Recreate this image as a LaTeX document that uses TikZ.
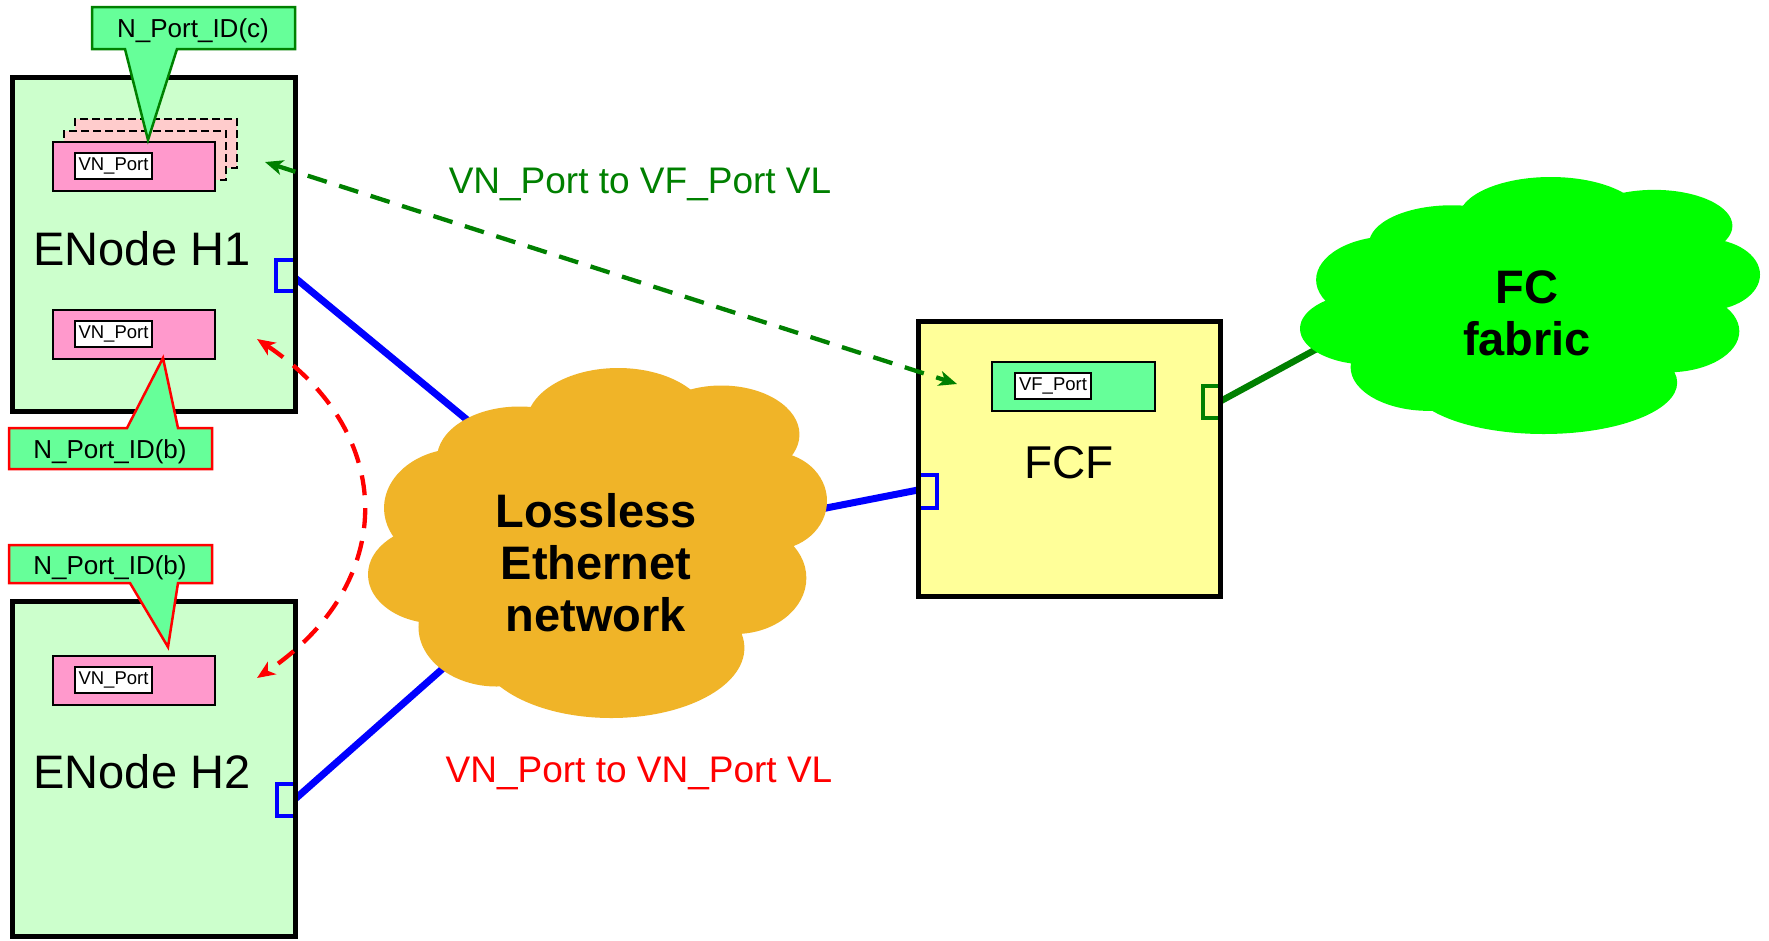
\documentclass[tikz,border=0pt]{standalone}
\usepackage{fontspec}
\setmainfont{Liberation Sans}
\usetikzlibrary{arrows.meta}
\definecolor{hostgreen}{HTML}{CCFFCC}
\definecolor{portpink}{HTML}{FF99CC}
\definecolor{ghostpink}{HTML}{FFCCCC}
\definecolor{calloutfill}{HTML}{66FF99}
\definecolor{fcfyellow}{HTML}{FFFF99}
\definecolor{lossorange}{HTML}{F0B428}
\definecolor{fcgreen}{HTML}{00FF00}
\definecolor{darkgreen}{HTML}{008000}
\definecolor{pureblue}{HTML}{0000FF}
\definecolor{purered}{HTML}{FF0000}
\newcommand\cloudlobes{%
\fill (0.545,0.16) ellipse [x radius=0.2, y radius=0.16];
\fill (0.77,0.19) ellipse [x radius=0.17, y radius=0.14];
\fill (0.88,0.38) ellipse [x radius=0.12, y radius=0.14];
\fill (0.80,0.60) ellipse [x radius=0.155, y radius=0.16];
\fill (0.53,0.80) ellipse [x radius=0.29, y radius=0.20];
\fill (0.28,0.74) ellipse [x radius=0.17, y radius=0.17];
\fill (0.15,0.59) ellipse [x radius=0.15, y radius=0.14];
\fill (0.20,0.40) ellipse [x radius=0.165, y radius=0.17];
\fill (0.33,0.26) ellipse [x radius=0.18, y radius=0.15];
\fill (0.52,0.48) ellipse [x radius=0.38, y radius=0.33];
}
\begin{document}
\begin{tikzpicture}[x=1pt,y=-1pt,
  hostbox/.style={draw=black,line width=5pt,fill=hostgreen,minimum width=283pt,inner sep=0pt},
  pinkbox/.style={draw=black,line width=2pt,fill=portpink,minimum width=162pt,minimum height=49pt,inner sep=0pt},
  ghostbox/.style={draw=black,line width=2pt,fill=ghostpink,dash pattern=on 8pt off 4pt,minimum width=162pt,minimum height=49pt,inner sep=0pt},
  portlabel/.style={draw=black,line width=1.5pt,fill=white,minimum width=77pt,minimum height=26pt,inner sep=0pt,font=\fontsize{18.5}{20}\selectfont},
  bigtxt/.style={anchor=base,inner sep=0pt,font=\fontsize{47}{52}\selectfont},
  vltxt/.style={anchor=base,inner sep=0pt,font=\fontsize{37}{42}\selectfont},
  calltxt/.style={anchor=base,inner sep=0pt,font=\fontsize{26}{30}\selectfont},
  cloudtxt/.style={inner sep=0pt,align=center,font=\bfseries\fontsize{47}{52}\selectfont},
  bracket/.style={line width=4pt,line cap=butt,line join=miter},
  link/.style={line width=7pt},
  vlarrow/.style={line width=4.3pt,dash pattern=on 20pt off 13pt,{Stealth[length=18pt,width=15pt,inset=5pt]}-{Stealth[length=18pt,width=15pt,inset=5pt]}},
  callout/.style={line width=2.5pt,fill=calloutfill,line join=miter}
]
\useasboundingbox[fill=white] (0,0) rectangle (1769,940);

% port coordinates and hidden ends of links
\coordinate (h1port) at (294,277);
\coordinate (h2port) at (294,800);
\coordinate (fcfport) at (918,490);
\coordinate (fcfout) at (1219,402);
\coordinate (lossin1) at (540,480);
\coordinate (lossin2) at (500,618);
\coordinate (lossin3) at (770,519);
\coordinate (fcin) at (1370,320);

% links (under the clouds)
\draw[link,pureblue] (h1port) -- (lossin1);
\draw[link,pureblue] (h2port) -- (lossin2);
\draw[link,pureblue] (fcfport) -- (lossin3);
\draw[link,darkgreen,line width=6.5pt] (fcfout) -- (fcin);

% clouds
\begin{scope}[shift={(368,368)},xscale=459,yscale=350,fill=lossorange]
\cloudlobes
\end{scope}
\begin{scope}[shift={(1300,177)},xscale=460,yscale=257,fill=fcgreen]
\cloudlobes
\end{scope}
\node[cloudtxt] (loss) at (596,563) {Lossless\\Ethernet\\network};
\node[cloudtxt] (fc) at (1527,313) {FC\\fabric};

% hosts
\node[hostbox,minimum height=334pt] (h1) at (153.5,244.5) {};
\node[hostbox,minimum height=334.5pt] (h2) at (153.5,768.75) {};
\node[bigtxt] (h1txt) at (142,265) {ENode H1};
\node[bigtxt] (h2txt) at (142,788) {ENode H2};

% H1 ports
\node[ghostbox] (g2) at (156,143.5) {};
\node[ghostbox] (g1) at (145,155) {};
\node[pinkbox] (vn1) at (134,166.5) {};
\node[portlabel] (vn1l) at (113.5,166) {VN\_Port};
\node[pinkbox] (vn2) at (134,334.5) {};
\node[portlabel] (vn2l) at (113.5,334) {VN\_Port};
% H2 port
\node[pinkbox] (vn3) at (134,680.5) {};
\node[portlabel] (vn3l) at (113.5,680) {VN\_Port};

% FCF
\node[draw=black,line width=5pt,fill=fcfyellow,minimum width=302.5pt,minimum height=275.5pt,inner sep=0pt] (fcf) at (1069.25,458.75) {};
\node[draw=black,line width=2pt,fill=calloutfill,minimum width=163pt,minimum height=49pt,inner sep=0pt] (vf) at (1073.5,386.5) {};
\node[portlabel,minimum width=76pt] (vfl) at (1053,386) {VF\_Port};
\node[anchor=base,inner sep=0pt,font=\fontsize{46}{50}\selectfont] (fcftxt) at (1069,478) {FCF};

% brackets
\draw[bracket,pureblue] (293,260) -- (276,260) -- (276,291) -- (293,291);
\draw[bracket,pureblue] (293,784) -- (277,784) -- (277,816) -- (293,816);
\draw[bracket,pureblue] (921,475) -- (937,475) -- (937,508) -- (921,508);
\draw[bracket,darkgreen] (1218,386) -- (1203,386) -- (1203,418) -- (1218,418);

% callouts
\draw[callout,draw=darkgreen] (92,7) -- (295,7) -- (295,49) -- (177,49) -- (148,140) -- (125,49) -- (92,49) -- cycle;
\node[calltxt] (cc) at (193,37) {N\_Port\_ID(c)};
\draw[callout,draw=purered] (9,428) -- (127,428) -- (163,358) -- (178,428) -- (212,428) -- (212,469) -- (9,469) -- cycle;
\node[calltxt] (cb1) at (110,458) {N\_Port\_ID(b)};
\draw[callout,draw=purered] (9,545) -- (212,545) -- (212,583) -- (178,583) -- (168,647) -- (130,583) -- (9,583) -- cycle;
\node[calltxt] (cb2) at (110,574) {N\_Port\_ID(b)};

% virtual links
\coordinate (vlh1) at (265,162);
\coordinate (vlfcf) at (957,384);
\draw[vlarrow,darkgreen] (vlh1) -- (vlfcf);
\coordinate (vlh1b) at (257,339);
\coordinate (vlh2) at (257,678);
\draw[vlarrow,purered] (vlh1b) .. controls (398,433) and (398,584) .. (vlh2);

\node[vltxt,text=darkgreen] (vfvl) at (640,193) {VN\_Port to VF\_Port VL};
\node[vltxt,text=purered] (vnvl) at (639,782) {VN\_Port to VN\_Port VL};
\end{tikzpicture}
\end{document}
